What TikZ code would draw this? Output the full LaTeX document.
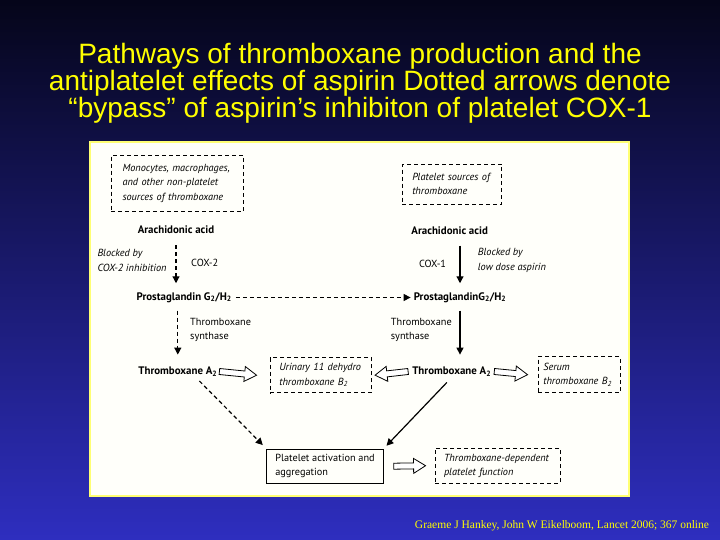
\documentclass[tikz,border=0pt]{standalone}
\usepackage{fontspec}
\setmainfont{PT Sans}
\newfontfamily\titlefont{Liberation Sans}
\newfontfamily\creditfont{Liberation Serif}
\definecolor{bgtop}{rgb}{.02,.02,.1}
\definecolor{bgbot}{rgb}{.18,.18,.75}
\definecolor{ttl}{rgb}{1,1,0}
\definecolor{panelfill}{rgb}{1,1,.98}
\definecolor{panelrule}{rgb}{1,1,.45}
\usetikzlibrary{arrows.meta}
\usetikzlibrary{calc}

\begin{document}
\begin{tikzpicture}[
      x=1bp, y=-1bp,
      every node/.style={inner sep=1bp},
      title/.style={text=ttl, align=center, font=\titlefont\fontsize{28bp}{27bp}\selectfont},
      credit/.style={text=ttl, font=\creditfont\fontsize{11.5bp}{13bp}\selectfont},
      box/.style={draw, line width=.9bp, inner xsep=9bp, inner ysep=0bp, align=left},
      dbox/.style={box, dash pattern=on 4bp off 3bp},
      solidarr/.style={line width=1.2bp, -{Triangle[length=7bp,width=7bp]}},
      dasharr/.style={solidarr, dash pattern=on 4bp off 3bp},
      block/.style={draw, fill=white, line width=.8bp, to path={
        ($(\tikztostart)!3bp!90:(\tikztotarget)$)
        -- ($(\tikztotarget)!12bp!(\tikztostart)!3bp!-90:(\tikztostart)$)
        -- ($(\tikztotarget)!12bp!(\tikztostart)!7.5bp!-90:(\tikztostart)$)
        -- (\tikztotarget)
        -- ($(\tikztotarget)!12bp!(\tikztostart)!7.5bp!90:(\tikztostart)$)
        -- ($(\tikztotarget)!12bp!(\tikztostart)!3bp!90:(\tikztostart)$)
        -- ($(\tikztostart)!3bp!-90:(\tikztotarget)$) -- cycle}}]

        \useasboundingbox (0,0) rectangle (720,540);
        \shade[top color=bgtop, bottom color=bgbot] (0,0) rectangle (720,540);

        \node[title] (title) at (360,83) {Pathways of thromboxane production and the\\
          antiplatelet effects of aspirin Dotted arrows denote\\
          “bypass” of aspirin’s inhibiton of platelet COX-1};
        \node[credit] (credit) at (562,526) {Graeme J Hankey, John W Eikelboom, Lancet 2006; 367 online};

        \draw[panelrule, fill=panelfill, line width=1.5bp] (90,142) rectangle (629,496);

        {\fontsize{10.3bp}{14.3bp}\selectfont

        % sources
        {\itshape
        \node[dbox, inner xsep=11.5bp, text width=109bp, minimum height=56.5bp] (srcL) at (177,183.3)
          {Monocytes, macrophages,\\and other non-platelet\\sources of thromboxane};
        \node[dbox, inner xsep=10bp, text width=79.5bp, minimum height=40.3bp] (srcR) at (452,184.2)
          {Platelet sources of\\thromboxane};
        }

        {\bfseries\fontsize{10.9bp}{13bp}\selectfont
        \node (arachL) at (176,230) {Arachidonic acid};
        \node (arachR) at (449.7,230.5) {Arachidonic acid};
        \node (pgL) at (184.2,297.5) {Prostaglandin G\textsubscript{2}/H\textsubscript{2}};
        \node (pgR) at (460,297.5) {ProstaglandinG\textsubscript{2}/H\textsubscript{2}};
        \node (txL) at (177.8,371.5) {Thromboxane A\textsubscript{2}};
        \node (txR) at (451.7,371.5) {Thromboxane A\textsubscript{2}};
        }

        % enzymes
        \node[anchor=west] (cox2) at (190,263) {COX-2};
        \node[anchor=east] (cox1) at (447.3,264) {COX-1};
        \node[anchor=west, align=left] (synL) at (189,330) {Thromboxane\\synthase};
        \node[anchor=west, align=left] (synR) at (389.7,330) {Thromboxane\\synthase};

        {\itshape
        \node[anchor=west, align=left] (blkL) at (96.3,260.5) {Blocked by\\COX-2 inhibition};
        \node[anchor=west, align=left] (blkR) at (476.7,260.5) {Blocked by\\low dose aspirin};
        }

        % products
        {\itshape
        \node[dbox, inner xsep=9.3bp, text width=83bp, minimum height=35bp] (urin) at (320.8,375.2)
          {Urinary 11 dehydro\\thromboxane B\textsubscript{2}};
        \node[dbox, inner xsep=5.3bp, text width=71.4bp, minimum height=36bp] (serum) at (579,374.7)
          {Serum\\thromboxane B\textsubscript{2}};
        \node[dbox, inner xsep=9bp, text width=107bp, minimum height=35bp] (tdep) at (497.5,465.7)
          {Thromboxane-dependent\\platelet function};
        }
        \node[box, inner xsep=8.5bp, minimum height=34.3bp] (plat) at (325,466.2)
          {Platelet activation and\\aggregation};
        }

        % non-platelet pathway
        \draw[dasharr, shorten <=10bp, shorten >=8bp] (arachL.south) -- (arachL.south |- pgL.north);
        \draw[dasharr, shorten <=7bp, shorten >=11bp] (txL.north |- pgL.south) -- (txL.north);
        \draw[dasharr, shorten <=3bp, shorten >=2bp] (pgL.east) -- (pgR.west);
        \draw[dasharr, shorten <=5bp, shorten >=5bp] ([xshift=18bp]txL.south) -- (plat.north west);

        % platelet pathway
        \draw[solidarr, shorten <=10bp, shorten >=8bp] (pgR.north |- arachR.south) -- (pgR.north);
        \draw[solidarr, shorten <=7bp, shorten >=11bp] (pgR.south) -- (pgR.south |- txR.north);
        \draw[solidarr, shorten <=7bp, shorten >=4bp] (txR.south) -- (plat.north east);

        % hollow arrows
        \draw[block] ([xshift=1bp]txL.east) to ([xshift=-13bp]urin.west);
        \draw[block] ([xshift=-3bp]txR.west) to ([xshift=3bp]urin.east);
        \draw[block] ([xshift=2bp]txR.east) to ([xshift=-10bp]serum.west);
        \draw[block] ([xshift=10bp]plat.east) to ([xshift=-9bp]tdep.west);

      \end{tikzpicture}
\end{document}
